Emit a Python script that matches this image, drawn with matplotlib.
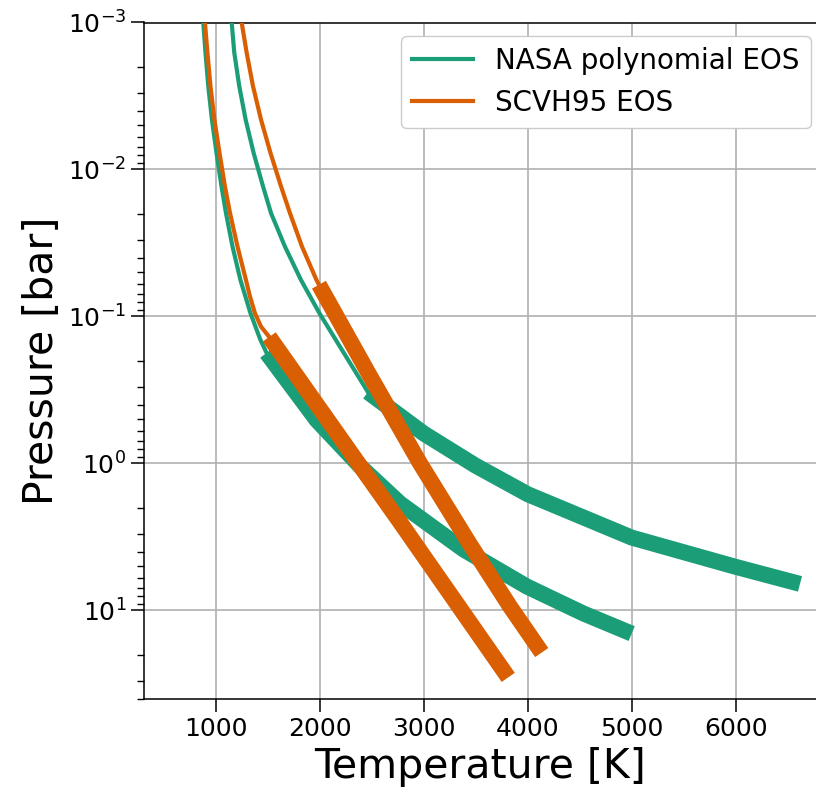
import numpy as np
import matplotlib
matplotlib.use("Agg")
import matplotlib.pyplot as plt

# ---- data ----
# NASA polynomial EOS, cooler profile
nasa1_thin_T = [870, 881, 902, 929, 964, 1008, 1056, 1099, 1162, 1238, 1335, 1431, 1490]
nasa1_thin_logP = [-3.1, -3.0, -2.795, -2.567, -2.34, -2.113, -1.886, -1.704, -1.476, -1.249, -1.022, -0.84, -0.752]
nasa1_thick_T = [1490, 1971, 2388, 2772, 3381, 3990, 4535, 5000]
nasa1_thick_logP = [-0.752, -0.295, 0.018, 0.271, 0.584, 0.836, 1.02, 1.157]

# NASA polynomial EOS, hotter profile
nasa2_thin_T = [1148, 1154, 1179, 1227, 1288, 1365, 1455, 1532, 1666, 1820, 1998, 2195, 2464]
nasa2_thin_logP = [-3.1, -3.0, -2.795, -2.567, -2.34, -2.113, -1.886, -1.704, -1.476, -1.249, -1.022, -0.795, -0.486]
nasa2_thick_T = [2464, 3000, 3500, 4000, 5000, 6000, 6618]
nasa2_thick_logP = [-0.486, -0.2045, 0.015, 0.209, 0.504, 0.703, 0.819]

# SCVH95 EOS, cooler profile
scvh1_thin_T = [886, 897, 921, 950, 988, 1037, 1089, 1138, 1210, 1291, 1330, 1378, 1436, 1515]
scvh1_thin_logP = [-3.1, -3.0, -2.795, -2.567, -2.34, -2.113, -1.886, -1.704, -1.476, -1.249, -1.136, -1.022, -0.931, -0.861]
scvh1_thick_T = [1515, 2373, 2760, 3365, 3813]
scvh1_thick_logP = [-0.861, 0.0, 0.386, 1.0, 1.455]

# SCVH95 EOS, hotter profile
scvh2_thin_T = [1242, 1250, 1298, 1359, 1436, 1527, 1628, 1714, 1830, 1969, 1993]
scvh2_thin_logP = [-3.1, -3.0, -2.795, -2.567, -2.34, -2.113, -1.886, -1.704, -1.476, -1.249, -1.216]
scvh2_thick_T = [1993, 2484, 2964, 3445, 3830, 4135]
scvh2_thick_logP = [-1.216, -0.595, -0.002, 0.55, 0.973, 1.286]

labels = ["NASA polynomial EOS", "SCVH95 EOS"]
xticks = [1000, 2000, 3000, 4000, 5000, 6000]

green = "#1b9e77"
orange = "#d95f02"

fig = plt.figure(figsize=(8.16, 7.93), dpi=100)
ax = fig.add_axes([144.3 / 816, 1 - 699 / 793, 1 - 144.3 / 816, (699 - 22.5) / 793])

thin = 3.0
thick = 11.5

def P(lp):
    return 10 ** np.asarray(lp)

ax.plot(nasa1_thin_T, P(nasa1_thin_logP), color=green, lw=thin, label=labels[0], zorder=3)
ax.plot(nasa2_thin_T, P(nasa2_thin_logP), color=green, lw=thin, zorder=3)
ax.plot(scvh1_thin_T, P(scvh1_thin_logP), color=orange, lw=thin, label=labels[1], zorder=3)
ax.plot(scvh2_thin_T, P(scvh2_thin_logP), color=orange, lw=thin, zorder=3)
ax.plot(nasa1_thick_T, P(nasa1_thick_logP), color=green, lw=thick, solid_capstyle="butt", zorder=4)
ax.plot(nasa2_thick_T, P(nasa2_thick_logP), color=green, lw=thick, solid_capstyle="butt", zorder=4)
ax.plot(scvh1_thick_T, P(scvh1_thick_logP), color=orange, lw=thick, solid_capstyle="butt", zorder=5)
ax.plot(scvh2_thick_T, P(scvh2_thick_logP), color=orange, lw=thick, solid_capstyle="butt", zorder=5)

ax.set_yscale("log")
ax.set_ylim(40, 1e-3)
ax.set_xlim(314, 6772)
ax.set_xticks(xticks)
ax.grid(True, which="major", color="#b0b0b0", lw=1.2, zorder=0)
ax.set_axisbelow(True)

ax.spines["right"].set_visible(False)
for s in ["left", "bottom", "top"]:
    ax.spines[s].set_linewidth(1.1)
ax.tick_params(which="major", length=9.5, width=1.1, labelsize=18)
ax.tick_params(which="minor", length=5, width=1.0)
ax.tick_params(axis="x", which="minor", bottom=False)

ax.set_xlabel("Temperature [K]", fontsize=29.5)
ax.set_ylabel("Pressure [bar]", fontsize=29.5)

leg = ax.legend(loc="upper right", fontsize=20, bbox_to_anchor=(0.9925, 0.98),
                borderaxespad=0, handlelength=2.2, framealpha=1.0, edgecolor="#cccccc")

fig.savefig("out.png", dpi=100)
